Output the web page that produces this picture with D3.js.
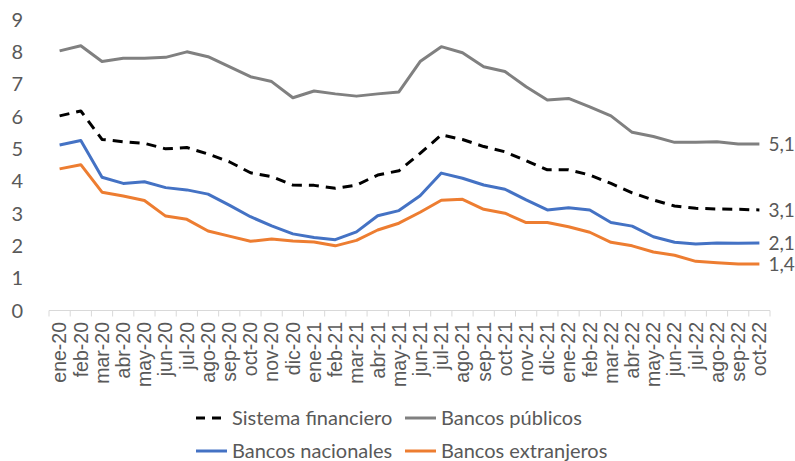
<!DOCTYPE html>
<html>
<head>
<meta charset="utf-8">
<script src="https://cdn.jsdelivr.net/npm/d3@7"></script>
<style>
  html, body { margin: 0; padding: 0; background: #fff; }
  svg { display: block; }
</style>
</head>
<body>
<svg id="chart" width="795" height="461"></svg>
<script>
const months = ["ene-20","feb-20","mar-20","abr-20","may-20","jun-20","jul-20","ago-20","sep-20","oct-20","nov-20","dic-20",
  "ene-21","feb-21","mar-21","abr-21","may-21","jun-21","jul-21","ago-21","sep-21","oct-21","nov-21","dic-21",
  "ene-22","feb-22","mar-22","abr-22","may-22","jun-22","jul-22","ago-22","sep-22","oct-22"];

const sistemaFinanciero = [6.02,6.17,5.29,5.22,5.17,5.00,5.04,4.84,4.60,4.26,4.14,3.88,
  3.87,3.78,3.88,4.19,4.32,4.86,5.43,5.29,5.07,4.91,4.63,4.35,
  4.35,4.19,3.93,3.64,3.42,3.23,3.16,3.14,3.13,3.11];
const bancosPublicos = [8.03,8.19,7.70,7.80,7.80,7.83,8.00,7.85,7.54,7.23,7.08,6.58,
  6.79,6.70,6.63,6.70,6.76,7.70,8.16,7.97,7.54,7.39,6.92,6.51,
  6.56,6.30,6.02,5.51,5.38,5.20,5.20,5.22,5.15,5.15];
const bancosNacionales = [5.12,5.26,4.12,3.93,3.98,3.80,3.73,3.60,3.26,2.90,2.62,2.37,
  2.26,2.19,2.43,2.93,3.09,3.55,4.25,4.09,3.88,3.75,3.42,3.11,
  3.18,3.11,2.72,2.61,2.28,2.11,2.06,2.09,2.08,2.09];
const bancosExtranjeros = [4.38,4.51,3.66,3.54,3.40,2.92,2.82,2.46,2.30,2.14,2.21,2.15,
  2.12,2.00,2.17,2.49,2.70,3.04,3.41,3.44,3.13,3.01,2.72,2.72,
  2.59,2.42,2.11,2.00,1.81,1.71,1.52,1.48,1.44,1.44];
const yTicks = [0,1,2,3,4,5,6,7,8,9];
const seriesNames = ["Sistema financiero","Bancos públicos","Bancos nacionales","Bancos extranjeros"];
const endLabels = ["3,1","5,1","2,1","1,4"];

const series = [
  {name: seriesNames[0], values: sistemaFinanciero, color: "#000000", dash: "10,7", label: endLabels[0]},
  {name: seriesNames[1], values: bancosPublicos, color: "#808080", dash: null, label: endLabels[1]},
  {name: seriesNames[2], values: bancosNacionales, color: "#4472C4", dash: null, label: endLabels[2]},
  {name: seriesNames[3], values: bancosExtranjeros, color: "#ED7D31", dash: null, label: endLabels[3]}
];

const svg = d3.select("#chart");
const textColor = "#595959";
const x = d3.scaleBand().domain(months).range([49, 770]);
const y = d3.scaleLinear().domain([0, 9]).range([310.5, 19.5]);
const cx = m => x(m) + x.bandwidth() / 2;

// y labels
svg.append("g").selectAll("text").data(yTicks).join("text")
  .attr("x", 23).attr("y", d => y(d)).attr("dy", "0.35em")
  .attr("text-anchor", "end")
  .attr("font-family", "Lato, 'Open Sans', sans-serif").attr("font-size", 20)
  .attr("fill", textColor).text(d => d);

// x axis line and ticks
const ax = svg.append("g");
ax.append("line").attr("x1", 49).attr("x2", 770).attr("y1", y(0)).attr("y2", y(0))
  .attr("stroke", "#d9d9d9").attr("stroke-width", 1);
const bounds = months.map(m => x(m)).concat([770]);
ax.selectAll("line.tick").data(bounds).join("line").attr("class", "tick")
  .attr("x1", d => d).attr("x2", d => d).attr("y1", y(0)).attr("y2", y(0) + 6)
  .attr("stroke", "#d9d9d9").attr("stroke-width", 1);
ax.selectAll("text").data(months).join("text")
  .attr("transform", d => `translate(${cx(d)},322) rotate(-90)`)
  .attr("text-anchor", "end").attr("dy", "0.35em")
  .attr("font-family", "'Liberation Sans', Arial, sans-serif").attr("font-size", 19.5)
  .attr("fill", textColor).text(d => d);

// lines
const line = d3.line().x((d, i) => cx(months[i])).y(d => y(d));
const order = [1, 0, 2, 3];
order.forEach(k => {
  const s = series[k];
  svg.append("path").datum(s.values).attr("d", line)
    .attr("fill", "none").attr("stroke", s.color).attr("stroke-width", 3)
    .attr("stroke-linejoin", "round")
    .attr("stroke-dasharray", s.dash);
});

// end labels
series.forEach(s => {
  const last = s.values[s.values.length - 1];
  svg.append("text").attr("x", cx(months[months.length - 1]) + 9).attr("y", y(last))
    .attr("dy", "0.35em")
    .attr("font-family", "Lato, 'Open Sans', sans-serif").attr("font-size", 19)
    .attr("fill", textColor).text(s.label);
});

// legend
const legendPos = [[196, 418], [405, 418], [196, 451], [405, 451]];
series.forEach((s, i) => {
  const [lx, ly] = legendPos[i];
  const g = svg.append("g").attr("transform", `translate(${lx},${ly})`);
  g.append("line").attr("x1", 0).attr("x2", 31).attr("y1", 0).attr("y2", 0)
    .attr("stroke", s.color).attr("stroke-width", 3)
    .attr("stroke-dasharray", s.dash ? "9,7" : null);
  g.append("text").attr("x", 36).attr("y", 0).attr("dy", "0.35em")
    .attr("font-family", "Lato, 'Open Sans', sans-serif").attr("font-size", 20)
    .attr("fill", textColor).text(s.name);
});
</script>
</body>
</html>
